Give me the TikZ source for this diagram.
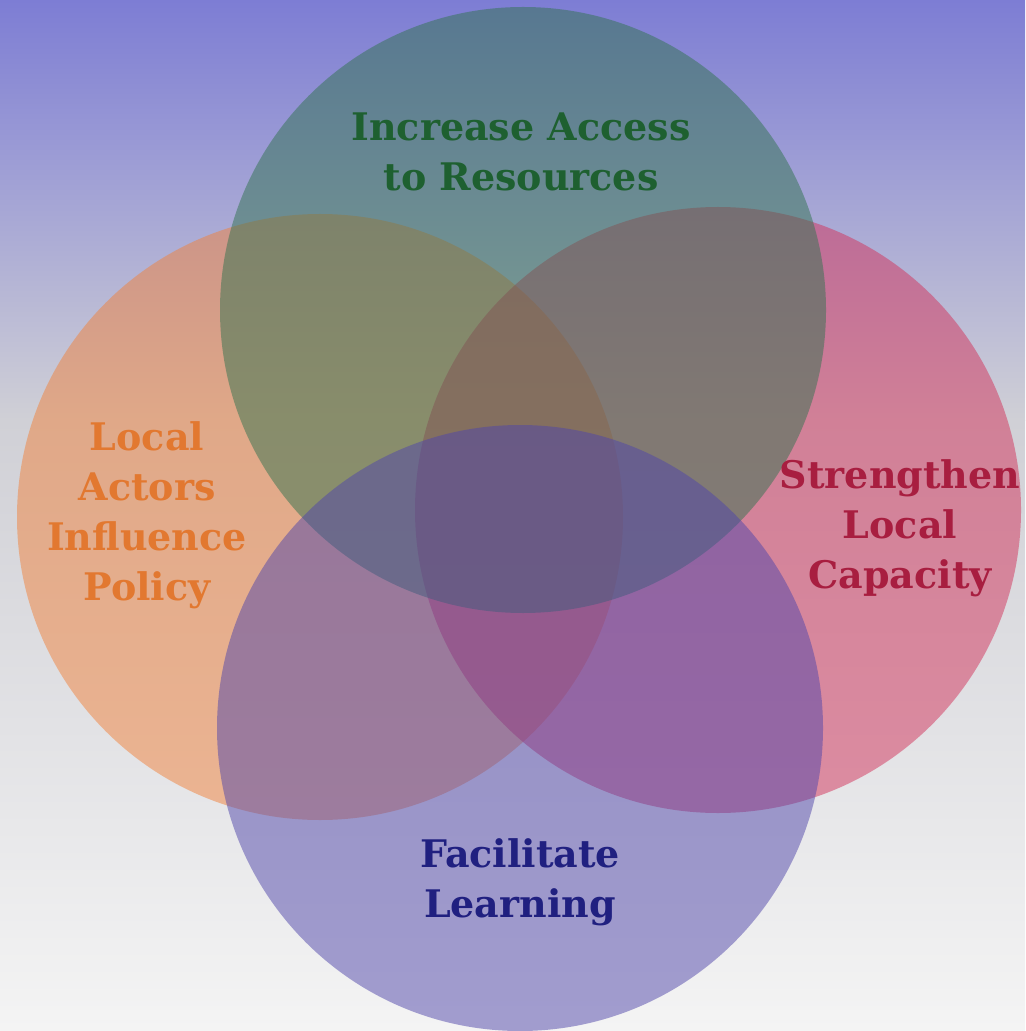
\documentclass[tikz,border=0pt]{standalone}
\usepackage{fontspec}
\setmainfont{DejaVu Serif}
\usepackage{xcolor}
\usetikzlibrary{positioning}

\definecolor{bgtop}{RGB}{125,125,212}
\definecolor{bgmid}{RGB}{208,208,214}
\definecolor{bgbot}{RGB}{244,244,244}
\definecolor{accessgreen}{RGB}{30,96,48}
\definecolor{policyorange}{RGB}{226,120,48}
\definecolor{capacityred}{RGB}{168,30,64}
\definecolor{learnblue}{RGB}{32,32,128}

\tikzset{
  venn/.style={fill opacity=0.5, draw=none},
  vlabel/.style={font=\bfseries\fontsize{19}{25}\selectfont, align=center, inner sep=0pt}
}

\begin{document}
\begin{tikzpicture}[x=0.5pt, y=-0.5pt]
    % Background
    \useasboundingbox (0,0) rectangle (1025,1031);
    \shade [top color=bgtop, bottom color=bgmid] (0,0) rectangle (1025,420);
    \shade [top color=bgmid, bottom color=bgbot] (0,420) rectangle (1025,1031);

    % Circles
    \fill [venn, fill={rgb,255:red,240;green,130;blue,60}] (320,517) circle [radius=303];
    \fill [venn, fill={rgb,255:red,210;green,50;blue,90}] (718,510) circle [radius=303];
    \fill [venn, fill={rgb,255:red,50;green,115;blue,80}] (523,310) circle [radius=303];
    \fill [venn, fill={rgb,255:red,80;green,70;blue,170}] (520,728) circle [radius=303];

    % Labels
    \node [vlabel, text=accessgreen] (access) at (521,152) {Increase Access\\to Resources};
    \node [vlabel, text=policyorange] (policy) at (147,515) {Local\\Actors\\Influence\\Policy};
    \node [vlabel, text=capacityred] (capacity) at (900,528) {Strengthen\\Local\\Capacity};
    \node [vlabel, text=learnblue] (learning) at (520,882) {Facilitate\\Learning};
\end{tikzpicture}
\end{document}
